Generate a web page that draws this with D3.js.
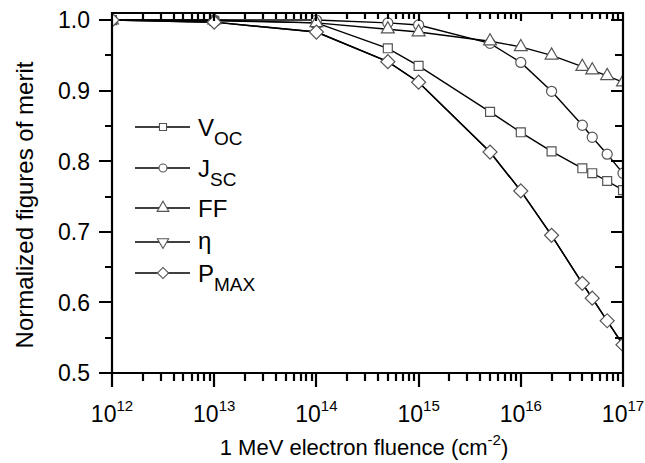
<!DOCTYPE html>
<html><head><meta charset="utf-8">
<script src="https://cdn.jsdelivr.net/npm/d3@7"></script>
<style>body{margin:0;background:#fff}svg{display:block}text{font-family:"Liberation Sans",Arial,sans-serif;fill:#000}</style>
</head><body><svg id="c" width="645" height="463"></svg>
<script>
// ---- data ----
const fluence = [1e12, 1e13, 1e14, 5e14, 1e15, 5e15, 1e16, 2e16, 4e16, 5e16, 7e16, 1e17];
const voc  = [1.000, 0.999, 0.996, 0.960, 0.935, 0.870, 0.841, 0.814, 0.790, 0.783, 0.772, 0.759];
const jsc  = [1.000, 1.000, 1.000, 0.996, 0.993, 0.967, 0.940, 0.899, 0.851, 0.834, 0.810, 0.783];
const ff   = [1.000, 1.000, 0.996, 0.987, 0.983, 0.970, 0.962, 0.950, 0.934, 0.929, 0.921, 0.912];
const eta  = [1.000, 0.997, 0.983, 0.941, 0.912, 0.813, 0.758, 0.695, 0.627, 0.606, 0.574, 0.540];
const pmax = [1.000, 0.997, 0.983, 0.941, 0.912, 0.813, 0.758, 0.695, 0.627, 0.606, 0.574, 0.540];
const yTicks = [0.5, 0.6, 0.7, 0.8, 0.9, 1.0];
const xTicks = [1e12, 1e13, 1e14, 1e15, 1e16, 1e17];
const xExps = ["12", "13", "14", "15", "16", "17"];

const series = [
  {values: voc, sym: d3.symbolSquare, size: 80, main: "V", sub: "OC", lsize: 50},
  {values: jsc, sym: d3.symbolCircle, size: 80, main: "J", sub: "SC", lsize: 50},
  {values: ff, sym: d3.symbolTriangle, size: 72, main: "FF", sub: "", lsize: 60},
  {values: eta, sym: d3.symbolTriangle, size: 27, rot: 180, main: "η", sub: "", lsize: 55},
  {values: pmax, sym: d3.symbolSquare, size: 98, rot: 45, main: "P", sub: "MAX", lsize: 62}
];

const svg = d3.select("#c");
const L = 112, R = 623, T = 13, B = 373;
const x = d3.scaleLog().domain([1e12, 1e17]).range([L, R]);
const y = d3.scaleLinear().domain([0.5, 1.01]).range([B, T]);

svg.append("defs").append("clipPath").attr("id", "clip")
  .append("rect").attr("x", L).attr("y", T).attr("width", R - L).attr("height", B - T);

const xMinor = [];
for (let e = 12; e < 17; e++) for (let m = 2; m <= 9; m++) xMinor.push(m * Math.pow(10, e));
const yMinor = [0.55, 0.65, 0.75, 0.85, 0.95];

// y tick labels
yTicks.forEach(v => {
  svg.append("text").attr("x", 90).attr("y", y(v)).attr("dy", "0.36em")
    .attr("text-anchor", "end").attr("font-size", 23).text(d3.format(".1f")(v));
});

// x tick labels with superscripts
xTicks.forEach((v, i) => {
  const t = svg.append("text").attr("x", x(v)).attr("y", 422).attr("text-anchor", "middle");
  t.append("tspan").attr("font-size", 23).text("10");
  t.append("tspan").attr("font-size", 15).attr("dy", -11).text(xExps[i]);
});

// axis titles
const xt = svg.append("text").attr("x", 364).attr("y", 455).attr("text-anchor", "middle").attr("font-size", 22);
xt.append("tspan").text("1 MeV electron fluence (cm");
xt.append("tspan").attr("font-size", 15).attr("dy", -10).text("-2");
xt.append("tspan").attr("dy", 10).text(")");

svg.append("text").attr("transform", "translate(33,205) rotate(-90)")
  .attr("text-anchor", "middle").attr("font-size", 24).text("Normalized figures of merit");

// data
const plot = svg.append("g").attr("clip-path", "url(#clip)");
const line = d3.line().x((d, i) => x(fluence[i])).y(d => y(d));
series.forEach(s => {
  plot.append("path").datum(s.values).attr("d", line)
    .attr("fill", "none").attr("stroke", "#000").attr("stroke-width", 1.4);
});
series.forEach(s => {
  plot.selectAll(null).data(s.values).enter().append("path")
    .attr("d", d3.symbol().type(s.sym).size(s.size))
    .attr("transform", (d, i) => `translate(${x(fluence[i])},${y(d)})` + (s.rot ? ` rotate(${s.rot})` : ""))
    .attr("fill", "#fff").attr("stroke", "#555").attr("stroke-width", 1.2);
});

// legend
const legY = [127, 168, 208, 242, 273];
series.forEach((s, i) => {
  const g = svg.append("g").attr("transform", `translate(0,${legY[i]})`);
  g.append("line").attr("x1", 135).attr("x2", 190).attr("y1", 0).attr("y2", 0)
    .attr("stroke", "#000").attr("stroke-width", 1.4);
  g.append("path").attr("d", d3.symbol().type(s.sym).size(s.lsize))
    .attr("transform", `translate(163,0)` + (s.rot ? ` rotate(${s.rot})` : ""))
    .attr("fill", "#fff").attr("stroke", "#555").attr("stroke-width", 1.1);
  const t = g.append("text").attr("x", 198).attr("y", s.main === "η" ? 7 : 9).attr("font-size", 24);
  t.append("tspan").text(s.main);
  if (s.sub) t.append("tspan").attr("font-size", 19).attr("dy", 9).text(s.sub);
});

// frame and ticks built into a single path with d3.path, positions from the scales
const p = d3.path();
p.rect(L, T, R - L, B - T);
function hT(v, x0, len) { p.moveTo(x0, Math.round(y(v))); p.lineTo(x0 + len, Math.round(y(v))); }
function vT(v, y0, len) { p.moveTo(Math.round(x(v)), y0); p.lineTo(Math.round(x(v)), y0 + len); }
yTicks.forEach(v => { hT(v, L, -13); hT(v, R, -12); });
yMinor.forEach(v => { hT(v, L, -7); hT(v, R, -8); });
xTicks.forEach(v => { vT(v, B, 14); vT(v, T, 8); });
xMinor.forEach(v => { vT(v, B, 8); vT(v, T, 6); });
svg.append("path").attr("d", p.toString())
  .attr("fill", "none").attr("stroke", "#000").attr("stroke-width", 2.2);
</script></body></html>
